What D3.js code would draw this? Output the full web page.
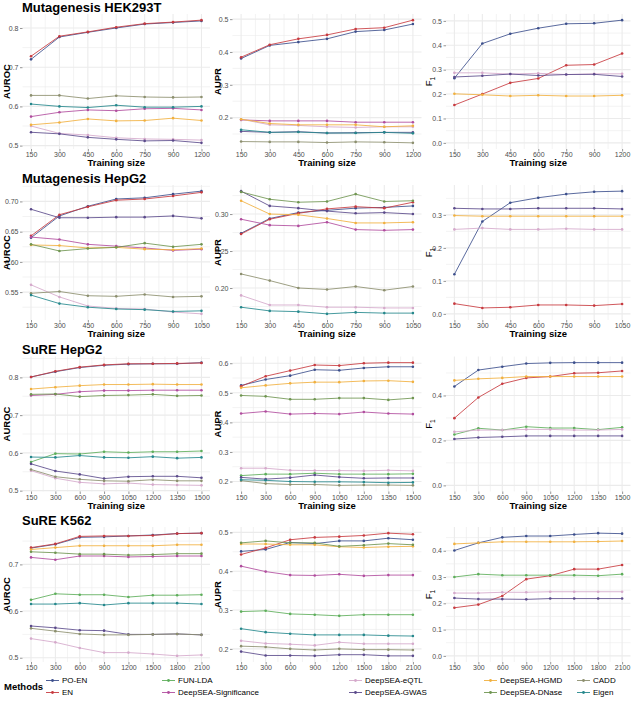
<!DOCTYPE html>
<html><head><meta charset="utf-8">
<script src="https://cdn.jsdelivr.net/npm/d3@7"></script>
<style>body{margin:0;background:#fff}svg{display:block;font-family:"Liberation Sans",Arial,sans-serif}</style>
</head><body><svg id="c" width="633" height="717"></svg>
<script>
// ---------- data ----------
const methods = ["PO-EN","EN","FUN-LDA","DeepSEA-Significance","DeepSEA-eQTL","DeepSEA-GWAS","DeepSEA-HGMD","DeepSEA-DNase","CADD","Eigen"];
const methodColors = ["#3C4F8C","#C73A3F","#5DAE5A","#B14D9E","#D5A9CB","#5B4A8B","#F1B03E","#6F9550","#8C8F6E","#25888C"];
const rowTitles = ["Mutagenesis HEK293T","Mutagenesis HepG2","SuRE HepG2","SuRE K562"];
const metricNames = ["AUROC","AUPR","F1"];
const sizesHEK = ["150","300","450","600","750","900","1200"];
const sizesMutHepG2 = ["150","300","450","600","750","900","1050"];
const sizesSureHepG2 = ["150","300","600","900","1050","1200","1350","1500"];
const sizesK562 = ["150","300","600","900","1200","1500","1800","2100"];

const hekAUROC = {
  "PO-EN":[0.720,0.777,0.789,0.800,0.810,0.814,0.818],
  "EN":[0.728,0.779,0.790,0.802,0.811,0.815,0.820],
  "DeepSEA-Significance":[0.574,0.585,0.591,0.589,0.594,0.595,0.591],
  "DeepSEA-eQTL":[0.550,0.531,0.527,0.520,0.517,0.516,0.514],
  "DeepSEA-GWAS":[0.534,0.530,0.521,0.516,0.512,0.513,0.507],
  "DeepSEA-HGMD":[0.553,0.559,0.568,0.563,0.564,0.570,0.564],
  "CADD":[0.628,0.628,0.620,0.627,0.624,0.623,0.624],
  "Eigen":[0.606,0.600,0.597,0.603,0.598,0.598,0.600]
};
const hekAUPR = {
  "PO-EN":[0.380,0.420,0.430,0.440,0.462,0.467,0.485],
  "EN":[0.384,0.422,0.440,0.452,0.470,0.474,0.497],
  "DeepSEA-Significance":[0.193,0.190,0.190,0.190,0.186,0.186,0.186],
  "DeepSEA-eQTL":[0.195,0.178,0.176,0.172,0.170,0.172,0.172],
  "DeepSEA-GWAS":[0.158,0.155,0.157,0.153,0.154,0.155,0.155],
  "DeepSEA-HGMD":[0.195,0.182,0.178,0.178,0.178,0.172,0.175],
  "CADD":[0.127,0.126,0.126,0.124,0.126,0.125,0.123],
  "Eigen":[0.163,0.155,0.156,0.153,0.153,0.155,0.152]
};
const hekF1 = {
  "PO-EN":[0.265,0.407,0.447,0.470,0.488,0.490,0.503],
  "EN":[0.155,0.200,0.246,0.264,0.318,0.321,0.366],
  "DeepSEA-eQTL":[0.287,0.287,0.282,0.285,0.280,0.283,0.283],
  "DeepSEA-GWAS":[0.270,0.275,0.282,0.276,0.280,0.281,0.272],
  "DeepSEA-HGMD":[0.201,0.197,0.192,0.195,0.192,0.192,0.195]
};
const mutHepG2AUROC = {
  "PO-EN":[0.640,0.676,0.692,0.704,0.706,0.712,0.717],
  "EN":[0.643,0.678,0.691,0.702,0.704,0.709,0.715],
  "DeepSEA-Significance":[0.641,0.637,0.629,0.626,0.623,0.619,0.621],
  "DeepSEA-eQTL":[0.562,0.542,0.527,0.523,0.522,0.517,0.514],
  "DeepSEA-GWAS":[0.687,0.673,0.673,0.674,0.674,0.676,0.672],
  "DeepSEA-HGMD":[0.628,0.627,0.623,0.624,0.621,0.620,0.622],
  "DeepSEA-DNase":[0.629,0.618,0.622,0.624,0.631,0.625,0.629],
  "CADD":[0.548,0.551,0.544,0.543,0.546,0.542,0.543],
  "Eigen":[0.545,0.531,0.525,0.522,0.521,0.518,0.519]
};
const mutHepG2AUPR = {
  "PO-EN":[0.274,0.294,0.302,0.305,0.308,0.309,0.311],
  "EN":[0.273,0.293,0.301,0.307,0.310,0.308,0.316],
  "DeepSEA-Significance":[0.293,0.285,0.284,0.289,0.279,0.278,0.279],
  "DeepSEA-eQTL":[0.190,0.177,0.177,0.174,0.174,0.173,0.173],
  "DeepSEA-GWAS":[0.331,0.311,0.308,0.304,0.301,0.302,0.300],
  "DeepSEA-HGMD":[0.318,0.300,0.299,0.294,0.288,0.288,0.289],
  "DeepSEA-DNase":[0.330,0.320,0.316,0.317,0.327,0.317,0.318],
  "CADD":[0.219,0.210,0.200,0.198,0.202,0.197,0.202],
  "Eigen":[0.174,0.169,0.168,0.165,0.167,0.166,0.166]
};
const mutHepG2F1 = {
  "PO-EN":[0.120,0.280,0.337,0.352,0.363,0.370,0.372],
  "EN":[0.031,0.018,0.020,0.027,0.027,0.025,0.030],
  "DeepSEA-eQTL":[0.256,0.260,0.256,0.256,0.258,0.256,0.256],
  "DeepSEA-GWAS":[0.320,0.318,0.318,0.320,0.320,0.320,0.318],
  "DeepSEA-HGMD":[0.298,0.296,0.296,0.296,0.296,0.296,0.296]
};
const sureHepG2AUROC = {
  "PO-EN":[0.801,0.815,0.826,0.832,0.835,0.836,0.836,0.839],
  "EN":[0.801,0.816,0.827,0.833,0.836,0.836,0.837,0.838],
  "FUN-LDA":[0.576,0.598,0.597,0.603,0.601,0.603,0.603,0.605],
  "DeepSEA-Significance":[0.752,0.755,0.762,0.765,0.765,0.766,0.766,0.766],
  "DeepSEA-eQTL":[0.553,0.533,0.522,0.518,0.520,0.516,0.515,0.514],
  "DeepSEA-GWAS":[0.571,0.552,0.543,0.532,0.537,0.538,0.538,0.534],
  "DeepSEA-HGMD":[0.769,0.774,0.778,0.781,0.781,0.782,0.781,0.781],
  "DeepSEA-DNase":[0.755,0.756,0.749,0.752,0.753,0.755,0.751,0.752],
  "CADD":[0.556,0.537,0.530,0.526,0.525,0.529,0.526,0.526],
  "Eigen":[0.589,0.588,0.593,0.588,0.587,0.590,0.586,0.588]
};
const sureHepG2AUPR = {
  "PO-EN":[0.525,0.545,0.558,0.578,0.576,0.584,0.588,0.588],
  "EN":[0.522,0.556,0.575,0.594,0.592,0.600,0.602,0.602],
  "FUN-LDA":[0.220,0.225,0.225,0.228,0.225,0.225,0.225,0.226],
  "DeepSEA-Significance":[0.430,0.437,0.428,0.430,0.428,0.435,0.430,0.428],
  "DeepSEA-eQTL":[0.245,0.245,0.238,0.237,0.237,0.236,0.238,0.236],
  "DeepSEA-GWAS":[0.214,0.208,0.213,0.222,0.215,0.211,0.212,0.212],
  "DeepSEA-HGMD":[0.517,0.525,0.532,0.536,0.536,0.540,0.541,0.537],
  "DeepSEA-DNase":[0.491,0.488,0.478,0.478,0.482,0.482,0.476,0.482],
  "CADD":[0.203,0.193,0.190,0.190,0.187,0.188,0.188,0.187],
  "Eigen":[0.206,0.204,0.200,0.199,0.199,0.198,0.196,0.197]
};
const sureHepG2F1 = {
  "PO-EN":[0.440,0.513,0.528,0.542,0.545,0.546,0.546,0.546],
  "EN":[0.299,0.391,0.452,0.478,0.484,0.499,0.501,0.509],
  "FUN-LDA":[0.226,0.254,0.246,0.261,0.255,0.255,0.248,0.258],
  "DeepSEA-eQTL":[0.238,0.246,0.246,0.249,0.249,0.246,0.246,0.249],
  "DeepSEA-GWAS":[0.206,0.213,0.216,0.220,0.220,0.220,0.220,0.220],
  "DeepSEA-HGMD":[0.467,0.474,0.478,0.484,0.484,0.484,0.484,0.484]
};
const k562AUROC = {
  "PO-EN":[0.735,0.743,0.758,0.759,0.761,0.763,0.766,0.767],
  "EN":[0.736,0.744,0.760,0.761,0.761,0.762,0.766,0.767],
  "FUN-LDA":[0.624,0.637,0.635,0.635,0.630,0.634,0.634,0.635],
  "DeepSEA-Significance":[0.715,0.710,0.718,0.718,0.716,0.717,0.718,0.718],
  "DeepSEA-eQTL":[0.541,0.533,0.521,0.511,0.511,0.508,0.504,0.506],
  "DeepSEA-GWAS":[0.568,0.564,0.559,0.558,0.550,0.550,0.551,0.549],
  "DeepSEA-HGMD":[0.732,0.736,0.740,0.740,0.740,0.740,0.742,0.742],
  "DeepSEA-DNase":[0.727,0.725,0.722,0.722,0.720,0.721,0.723,0.723],
  "CADD":[0.563,0.557,0.551,0.549,0.549,0.550,0.551,0.549],
  "Eigen":[0.615,0.615,0.617,0.613,0.617,0.617,0.617,0.615]
};
const k562AUPR = {
  "PO-EN":[0.451,0.456,0.474,0.471,0.478,0.478,0.485,0.481],
  "EN":[0.443,0.460,0.481,0.487,0.489,0.492,0.498,0.495],
  "FUN-LDA":[0.296,0.298,0.290,0.288,0.285,0.288,0.288,0.288],
  "DeepSEA-Significance":[0.413,0.399,0.390,0.389,0.392,0.388,0.390,0.390],
  "DeepSEA-eQTL":[0.221,0.214,0.212,0.209,0.217,0.213,0.213,0.213],
  "DeepSEA-GWAS":[0.193,0.183,0.183,0.182,0.185,0.185,0.182,0.182],
  "DeepSEA-HGMD":[0.470,0.470,0.468,0.468,0.463,0.461,0.463,0.464],
  "DeepSEA-DNase":[0.473,0.478,0.473,0.473,0.464,0.467,0.471,0.468],
  "CADD":[0.207,0.205,0.200,0.197,0.200,0.198,0.198,0.197],
  "Eigen":[0.252,0.243,0.239,0.236,0.236,0.236,0.234,0.233]
};
const k562F1 = {
  "PO-EN":[0.401,0.430,0.451,0.456,0.456,0.462,0.467,0.465],
  "EN":[0.183,0.195,0.228,0.292,0.305,0.330,0.330,0.346],
  "FUN-LDA":[0.300,0.311,0.307,0.307,0.307,0.307,0.305,0.311],
  "DeepSEA-eQTL":[0.239,0.239,0.242,0.242,0.244,0.244,0.244,0.244],
  "DeepSEA-GWAS":[0.220,0.216,0.216,0.215,0.218,0.218,0.218,0.218],
  "DeepSEA-HGMD":[0.426,0.430,0.434,0.434,0.434,0.434,0.435,0.437]
};

const ticksHEK = [[0.5,0.6,0.7,0.8],[0.2,0.3,0.4,0.5],[0,0.1,0.2,0.3,0.4,0.5]];
const ticksMutHepG2 = [[0.55,0.60,0.65,0.70],[0.20,0.25,0.30],[0,0.1,0.2,0.3]];
const ticksSureHepG2 = [[0.5,0.6,0.7,0.8],[0.2,0.3,0.4,0.5,0.6],[0,0.2,0.4]];
const ticksK562 = [[0.5,0.6,0.7],[0.2,0.3,0.4,0.5],[0,0.1,0.2,0.3,0.4]];
const tickFormats = [[".1f",".1f",".1f"],[".2f",".2f",".1f"],[".1f",".1f",".1f"],[".1f",".1f",".1f"]];

// ---------- layout ----------
const rows = [
  {sizes:sizesHEK, panels:[hekAUROC,hekAUPR,hekF1], ticks:ticksHEK},
  {sizes:sizesMutHepG2, panels:[mutHepG2AUROC,mutHepG2AUPR,mutHepG2F1], ticks:ticksMutHepG2},
  {sizes:sizesSureHepG2, panels:[sureHepG2AUROC,sureHepG2AUPR,sureHepG2F1], ticks:ticksSureHepG2},
  {sizes:sizesK562, panels:[k562AUROC,k562AUPR,k562F1], ticks:ticksK562}
];
const colLeft = [22.5, 232.5, 446], colRight = [210, 421.5, 630.5];
const rowTop = [14, 185, 356.5, 527], panelH = 135;
const colorOf = d3.scaleOrdinal().domain(methods).range(methodColors);

const svg = d3.select("#c");
const tickColor = "#4D4D4D", gridColor = "#EBEBEB";

rows.forEach((row, ri) => {
  const top = rowTop[ri], bottom = top + panelH;
  svg.append("text").attr("x", 22).attr("y", top - 2.5)
    .attr("font-size", 13).attr("font-weight", "bold").attr("fill", "#000").text(rowTitles[ri]);
  const n = row.sizes.length;
  row.panels.forEach((panel, ci) => {
    const L = colLeft[ci], R = colRight[ci];
    const x = d3.scaleLinear().domain([-0.05*(n-1), (n-1)*1.05]).range([L, R]);
    const vals = Object.values(panel).flat();
    let lo = d3.min(vals), hi = d3.max(vals);
    if (ci === 2) lo = 0;
    const pad = (hi - lo) * 0.05;
    const y = d3.scaleLinear().domain([lo - pad, hi + pad]).range([bottom, top]);
    const g = svg.append("g");
    // grid
    const idx = d3.range(n);
    const minorX = d3.range(n-1).map(i => i + 0.5);
    const yt = row.ticks[ci];
    const step = yt[1] - yt[0];
    const minorY = d3.range(yt.length + 1).map(i => yt[0] - step/2 + i*step)
      .filter(v => v > y.domain()[0] && v < y.domain()[1]);
    g.selectAll(".mnx").data(minorX).join("line")
      .attr("x1", d => x(d)).attr("x2", d => x(d)).attr("y1", top).attr("y2", bottom)
      .attr("stroke", gridColor).attr("stroke-width", 0.6);
    g.selectAll(".mny").data(minorY).join("line")
      .attr("y1", d => y(d)).attr("y2", d => y(d)).attr("x1", L).attr("x2", R)
      .attr("stroke", gridColor).attr("stroke-width", 0.6);
    g.selectAll(".mjx").data(idx).join("line")
      .attr("x1", d => x(d)).attr("x2", d => x(d)).attr("y1", top).attr("y2", bottom)
      .attr("stroke", gridColor).attr("stroke-width", 1.1);
    g.selectAll(".mjy").data(yt).join("line")
      .attr("y1", d => y(d)).attr("y2", d => y(d)).attr("x1", L).attr("x2", R)
      .attr("stroke", gridColor).attr("stroke-width", 1.1);
    // axes
    const ya = g.append("g").attr("transform", `translate(${L},0)`)
      .call(d3.axisLeft(y).tickValues(yt).tickSize(2.5).tickPadding(1.5).tickFormat(d3.format(tickFormats[ri][ci])));
    ya.select(".domain").remove();
    ya.selectAll("line").attr("stroke", tickColor).attr("stroke-width", 0.6);
    ya.selectAll("text").attr("font-size", 7).attr("fill", tickColor).attr("font-family", null);
    const xa = g.append("g").attr("transform", `translate(0,${bottom})`)
      .call(d3.axisBottom(x).tickValues(idx).tickSize(2.5).tickPadding(1).tickFormat(i => row.sizes[i]));
    xa.select(".domain").remove();
    xa.selectAll("line").attr("stroke", tickColor).attr("stroke-width", 0.6);
    xa.selectAll("text").attr("font-size", 7).attr("fill", tickColor).attr("font-family", null);
    // axis titles
    if (ri < 3) {
      g.append("text").attr("x", (L + R)/2).attr("y", bottom + 17).attr("text-anchor", "middle")
        .attr("font-size", 9.5).attr("font-weight", "bold").text("Training size");
    }
    const yx = [6.5, 218, 429][ci];
    const yl = g.append("text").attr("transform", `translate(${yx},${(top+bottom)/2}) rotate(-90)`)
      .attr("text-anchor", "middle").attr("dy", "0.35em");
    if (ci === 2) {
      yl.attr("font-size", 9.5).text("F");
      yl.append("tspan").attr("font-size", 6.5).attr("dy", "0.35em").text("1");
    } else {
      yl.attr("font-size", 9.5).attr("font-weight", "bold").text(metricNames[ci]);
    }
    // lines
    const line = d3.line().x((d, i) => x(i)).y(d => y(d));
    methods.filter(m => panel[m]).forEach(m => {
      const s = panel[m];
      g.append("path").attr("d", line(s)).attr("fill", "none")
        .attr("stroke", colorOf(m)).attr("stroke-width", 0.85);
      g.selectAll(null).data(s).join("circle")
        .attr("cx", (d, i) => x(i)).attr("cy", d => y(d)).attr("r", 1.3).attr("fill", colorOf(m));
    });
  });
});

// ---------- legend ----------
const lg = svg.append("g");
lg.append("text").attr("x", 4).attr("y", 690).attr("font-size", 9.5).attr("font-weight", "bold").text("Methods");
const legTextX = [62, 178, 365, 500, 593];
const legRowY = [680.5, 692.5];
methods.forEach((m, i) => {
  const col = Math.floor(i / 2), r = i % 2;
  const tx = legTextX[col], cy = legRowY[r];
  lg.append("line").attr("x1", tx - 16).attr("x2", tx - 3).attr("y1", cy).attr("y2", cy)
    .attr("stroke", colorOf(m)).attr("stroke-width", 0.9);
  lg.append("circle").attr("cx", tx - 9.5).attr("cy", cy).attr("r", 1.4).attr("fill", colorOf(m));
  lg.append("text").attr("x", tx).attr("y", cy).attr("dy", "0.35em").attr("font-size", 8).attr("fill", "#000").text(m);
});
</script></body></html>
